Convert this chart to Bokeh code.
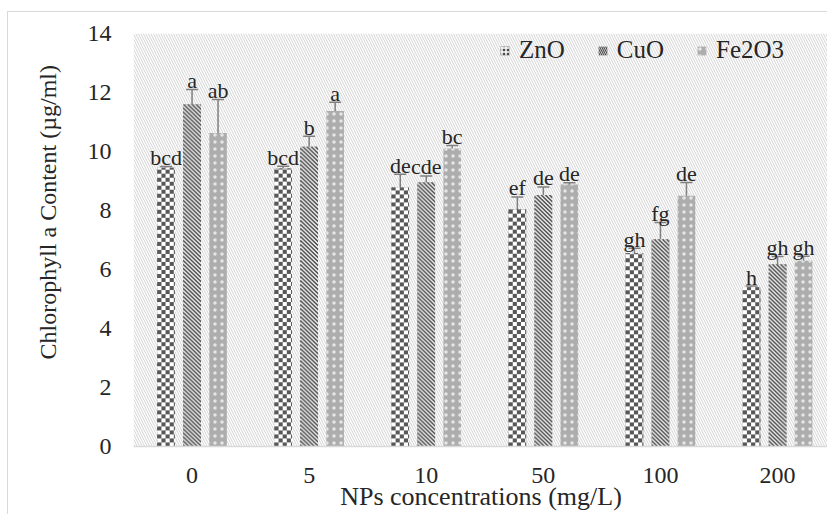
import numpy as np
from bokeh.plotting import figure
from bokeh.models import (ColumnDataSource, FixedTicker, BoxAnnotation, Legend, LegendItem,
                          Range1d, Whisker, TeeHead, Title)
from bokeh.core.properties import value
from bokeh.embed import file_html
from bokeh.resources import INLINE

# ---- data ----
categories = ["0", "5", "10", "50", "100", "200"]
series = ["ZnO", "CuO", "Fe2O3"]
zno = [9.45, 9.42, 8.78, 8.03, 6.55, 5.40]
zno_err = [0.04, 0.08, 0.45, 0.43, 0.17, 0.04]
cuo = [11.59, 10.16, 8.95, 8.52, 7.02, 6.17]
cuo_err = [0.51, 0.36, 0.22, 0.28, 0.57, 0.27]
fe2o3 = [10.63, 11.37, 10.10, 8.88, 8.50, 6.30]
fe2o3_err = [1.13, 0.30, 0.10, 0.06, 0.45, 0.15]
zno_letters = ["bcd", "bcd", "de", "ef", "gh", "h"]
cuo_letters = ["a", "b", "cde", "de", "fg", "gh"]
fe2o3_letters = ["ab", "a", "bc", "de", "de", "gh"]
y_ticks = [0, 2, 4, 6, 8, 10, 12, 14]
x_title = "NPs concentrations (mg/L)"
y_title = "Chlorophyll a Content (µg/ml)"

FONT = "Liberation Serif"
TXT = "#262626"

X0, X1, Y0, Y1 = -0.5, 5.435, 0, 14
FRAME_W, FRAME_H = 695, 413
PX_X = FRAME_W / (X1 - X0)
PX_Y = FRAME_H / (Y1 - Y0)

p = figure(width=820, height=503, output_backend="svg", toolbar_location=None,
           x_range=Range1d(X0, X1), y_range=Range1d(Y0, Y1),
           min_border_left=125, min_border_right=0, min_border_top=21, min_border_bottom=69)
p.margin = (11, 0, 0, 7)
p.styles = {"border-left": "1px solid #d9d9d9", "border-top": "1px solid #d9d9d9"}
p.outline_line_color = None
p.xgrid.grid_line_color = None
p.ygrid.grid_line_color = None
p.background_fill_color = "white"

# hatched plot-area background
bg = BoxAnnotation(fill_color="white", fill_alpha=1, line_color=None, level="underlay",
                   hatch_pattern="\\", hatch_color="#d3d3d3", hatch_scale=5, hatch_weight=1)
p.add_layout(bg)

offsets = [-0.222, 0.0, 0.222]
bw = 0.15


def texture(kind, h_px, w_px):
    img = np.zeros((h_px, w_px), dtype=np.uint32)
    v = img.view(dtype=np.uint8).reshape((h_px, w_px, 4))
    rr, cc = np.mgrid[0:h_px, 0:w_px]
    if kind == "checker":
        dark = ((rr // 4) + (cc // 4)) % 2 == 0
        col_d, col_l = (0x58, 0x58, 0x58), (0xff, 0xff, 0xff)
    else:  # "\" stripes (row 0 is the bottom, so use sum)
        dark = ((cc + rr) % 4) < 2
        col_d, col_l = (0x55, 0x55, 0x55), (0xe8, 0xe8, 0xe8)
    for ch in range(3):
        v[:, :, ch] = np.where(dark, col_d[ch], col_l[ch])
    v[:, :, 3] = 255
    return img


styles = [
    dict(fill_color="#4c4c4c", hatch_pattern="+", hatch_color="white", hatch_scale=4, hatch_weight=1.5),
    dict(fill_color="#e6e6e6", hatch_pattern="\\", hatch_color="#505050", hatch_scale=4, hatch_weight=1.2),
    dict(fill_color="#adadad", hatch_pattern="dot", hatch_color="#e6e6e6", hatch_scale=7, hatch_weight=1.6),
]
kinds = ["checker", "stripes", None]
vals = [zno, cuo, fe2o3]
errs = [zno_err, cuo_err, fe2o3_err]
letters = [zno_letters, cuo_letters, fe2o3_letters]

items = []
for k in range(3):
    xs = [i + offsets[k] for i in range(len(categories))]
    src = ColumnDataSource(dict(x=xs, top=vals[k],
                                upper=[v + e for v, e in zip(vals[k], errs[k])],
                                lower=[v - e for v, e in zip(vals[k], errs[k])],
                                lab=letters[k]))
    r = p.vbar(x="x", top="top", bottom=0, width=bw, source=src, line_color=None, **styles[k])
    items.append(LegendItem(label=series[k], renderers=[r]))
    if kinds[k]:
        w_px = int(round(bw * PX_X))
        imgs = [texture(kinds[k], max(1, int(round(v * PX_Y))), w_px) for v in vals[k]]
        p.image_rgba(image=imgs, x=[x - bw / 2 for x in xs], y=[0] * len(xs),
                     dw=[bw] * len(xs), dh=vals[k])
    w = Whisker(base="x", upper="upper", lower="lower", source=src, line_color="#7f7f7f", line_width=1.5,
                upper_head=TeeHead(size=12, line_color="#7f7f7f", line_width=1.5),
                lower_head=TeeHead(size=12, line_color="#7f7f7f", line_width=1.5))
    p.add_layout(w)
    p.text(x="x", y="upper", text="lab", source=src, text_align="center", text_baseline="alphabetic",
           y_offset=-9, text_font=value(FONT), text_font_size="22px", text_color=TXT)

legend = Legend(items=items, orientation="horizontal", location=(366, 382),
                label_text_font=FONT, label_text_font_size="25px", label_text_color=TXT,
                glyph_width=11, glyph_height=11, label_standoff=9, spacing=32, padding=0, margin=0,
                border_line_color=None, background_fill_alpha=0)
p.add_layout(legend)

# axes
p.xaxis.ticker = FixedTicker(ticks=list(range(len(categories))))
p.xaxis.major_label_overrides = {i: c for i, c in enumerate(categories)}
p.xaxis.axis_line_color = "#d9d9d9"
p.xaxis.axis_line_width = 1.5
p.xaxis.major_tick_line_color = None
p.xaxis.minor_tick_line_color = None
p.xaxis.major_tick_out = 0
p.xaxis.major_label_standoff = 21
p.xaxis.axis_label = x_title
p.xaxis.axis_label_standoff = -4

p.yaxis.ticker = FixedTicker(ticks=y_ticks)
p.yaxis.axis_line_color = None
p.yaxis.major_tick_line_color = None
p.yaxis.minor_tick_line_color = None
p.yaxis.major_tick_out = 0
p.yaxis.major_label_standoff = 22

for ax in (p.xaxis[0], p.yaxis[0]):
    ax.major_label_text_font = FONT
    ax.major_label_text_font_size = "24px"
    ax.major_label_text_color = TXT
    ax.axis_label_text_font = FONT
    ax.axis_label_text_font_size = "26px"
    ax.axis_label_text_font_style = "normal"
    ax.axis_label_text_color = TXT

# y-axis title, starting above the bottom like the original
ytitle = Title(text=y_title, align="left", offset=87, standoff=48, text_font=FONT,
               text_font_size="24px", text_font_style="normal", text_color=TXT)
p.add_layout(ytitle, "left")

open("out.html", "w").write(file_html(p, INLINE))
